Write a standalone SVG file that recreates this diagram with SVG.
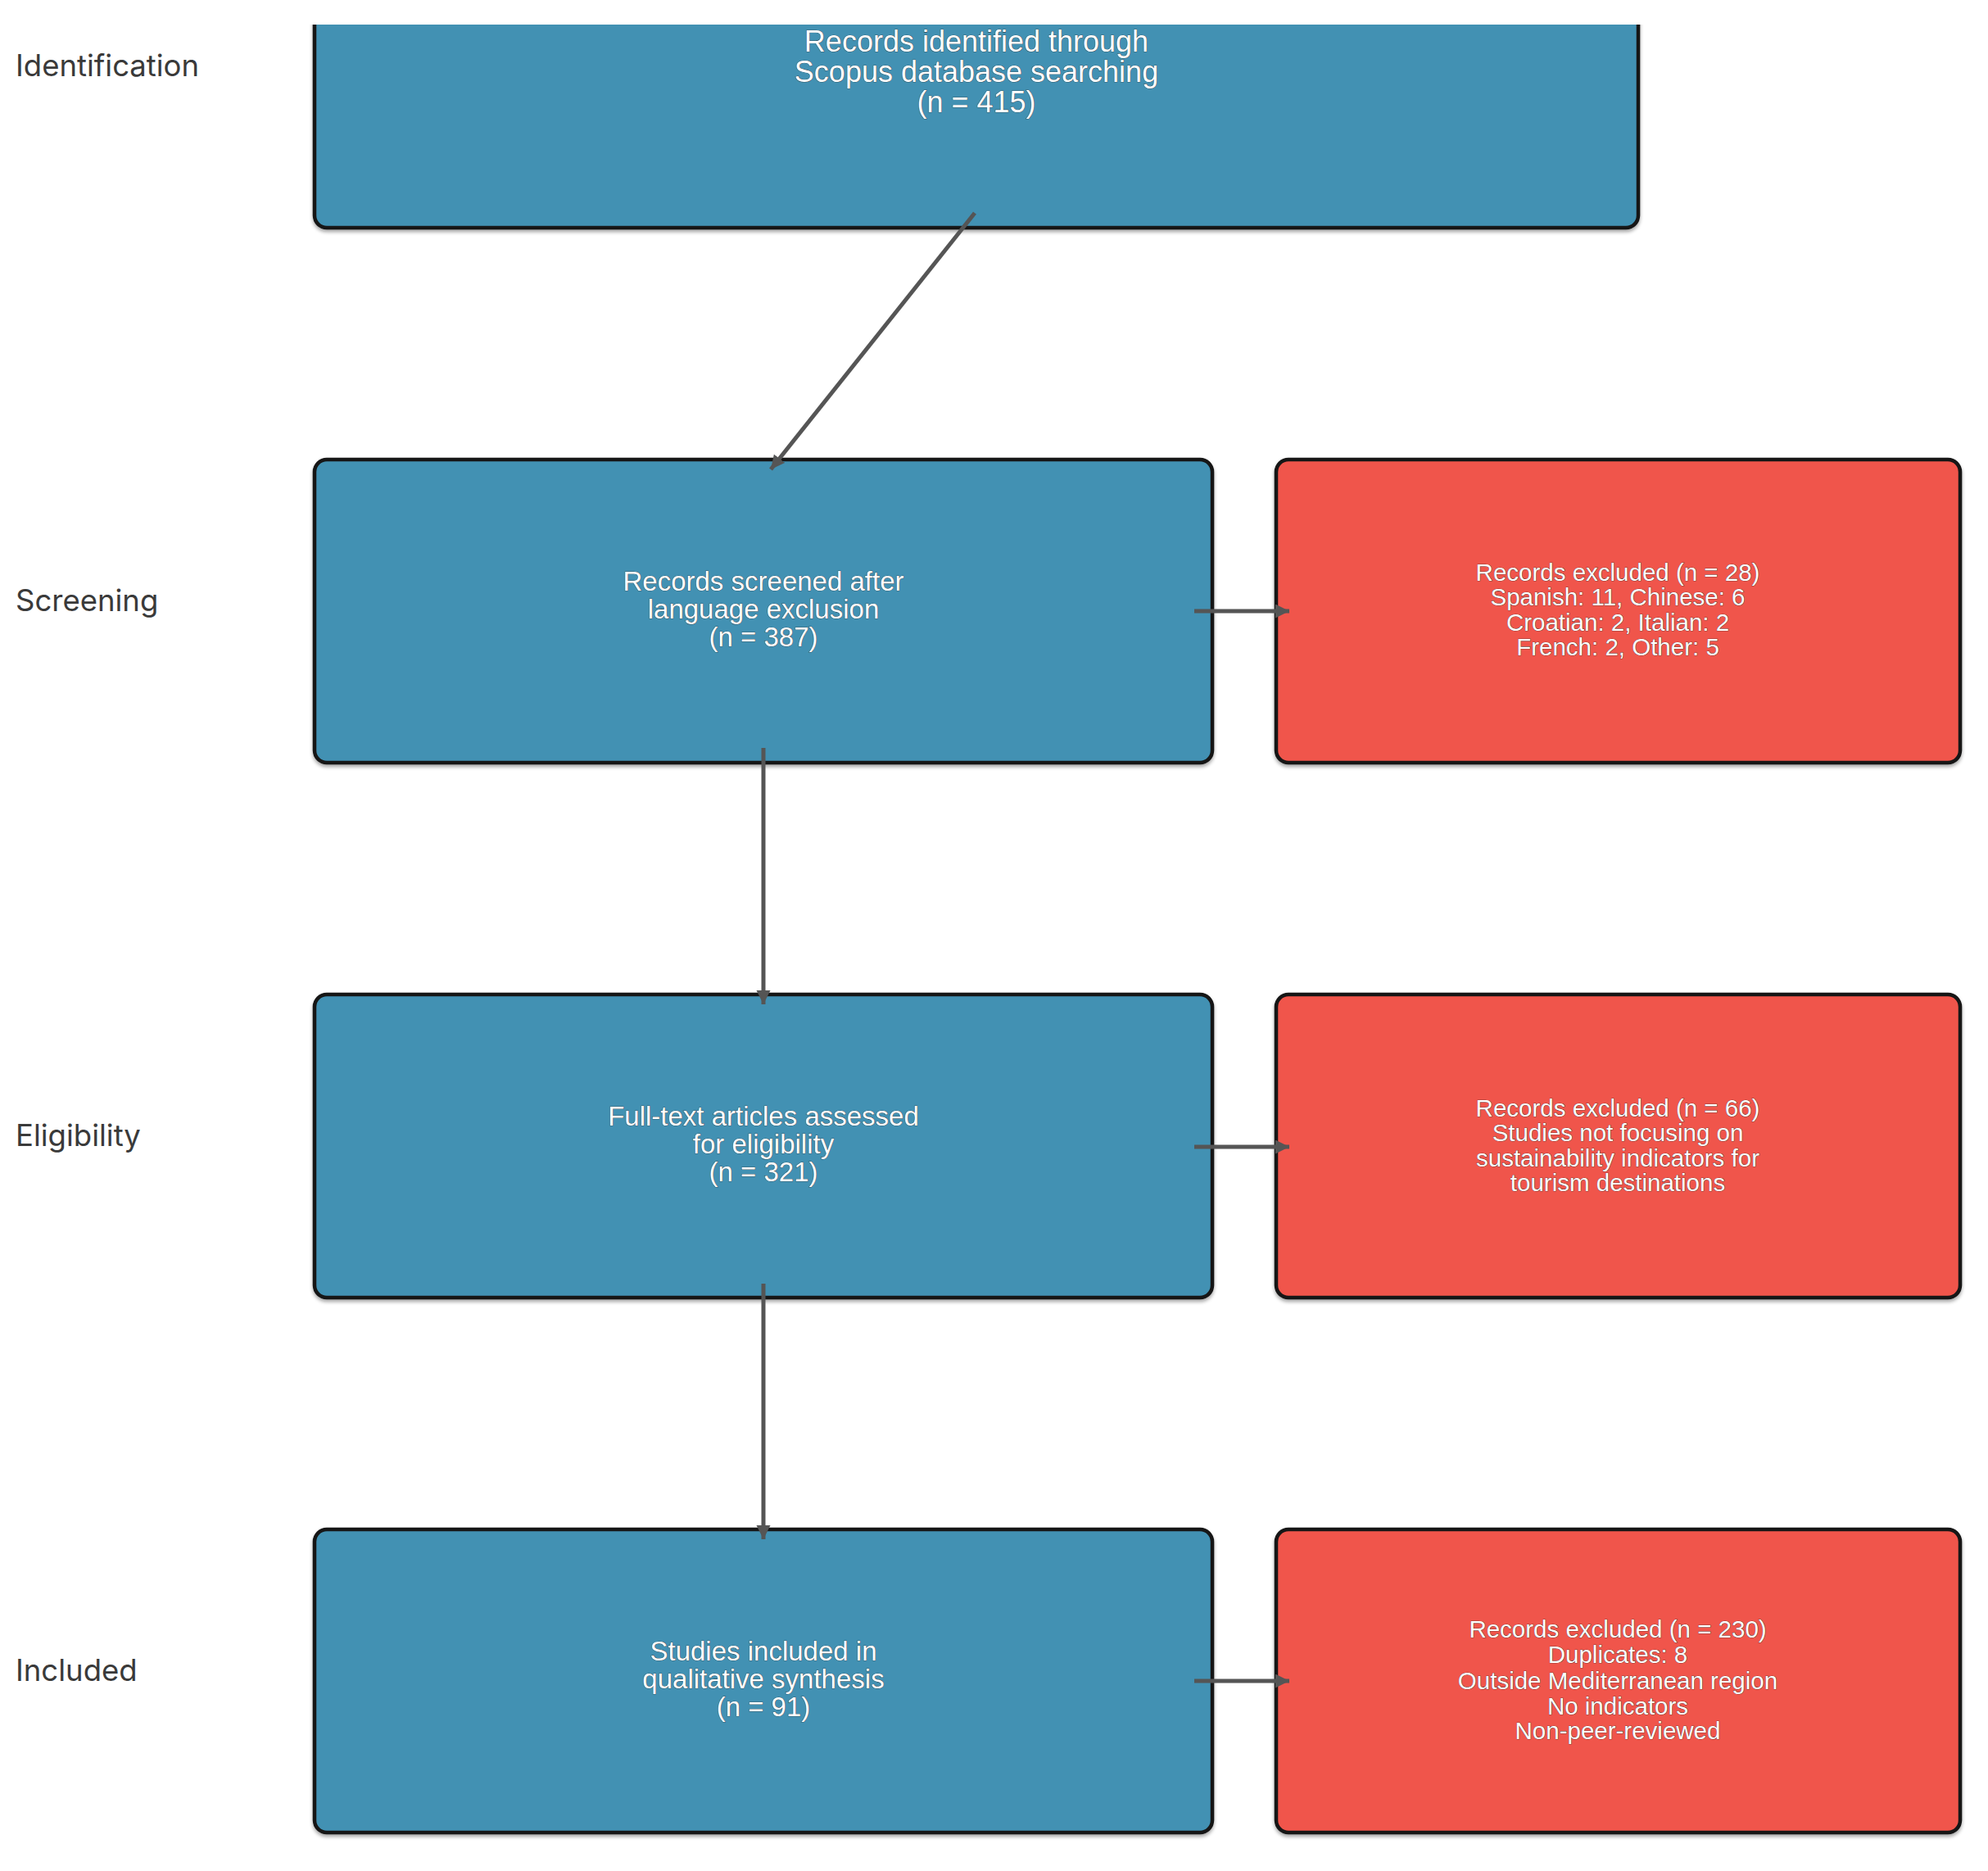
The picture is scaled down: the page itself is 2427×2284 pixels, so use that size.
<svg xmlns="http://www.w3.org/2000/svg" width="2427" height="2284" viewBox="0 0 2427 2284">
  <defs>
    <style>
      .blue { fill: #4391b3; stroke: #151515; stroke-width: 4.5; }
      .red { fill: #f0554b; stroke: #151515; stroke-width: 4.5; }
      .nt { font-family: "Liberation Sans", Arial, sans-serif; fill: #ffffff; text-anchor: middle; stroke: #2a2a2a; stroke-width: 0.7; paint-order: stroke; }
      .stage { font-family: Inter, "Liberation Sans", sans-serif; font-size: 36.5px; fill: #3a3a3a; }
      .conn { stroke: #555555; stroke-width: 5; fill: none; }
    </style>
    <filter id="shadow" x="-5%" y="-5%" width="110%" height="115%">
      <feDropShadow dx="0" dy="3" stdDeviation="2" flood-color="#000000" flood-opacity="0.35"/>
    </filter>
    <clipPath id="topclip">
      <rect x="0" y="30" width="2427" height="400"/>
    </clipPath>
    <marker id="arrow" markerUnits="userSpaceOnUse" markerWidth="20" markerHeight="18" refX="17" refY="8.5" orient="auto">
      <path d="M0,0 L17,8.5 L0,17 z" fill="#555555"/>
    </marker>
  </defs>
  <rect x="0" y="0" width="2427" height="2284" fill="#ffffff"/>

  <g id="stage-labels">
    <text class="stage" x="19" y="93">Identification</text>
    <text class="stage" x="19" y="746">Screening</text>
    <text class="stage" x="19" y="1399">Eligibility</text>
    <text class="stage" x="19" y="2052">Included</text>
  </g>

  <g id="node-identified" clip-path="url(#topclip)">
    <rect class="blue" x="384" y="-30" width="1616" height="308" rx="15" filter="url(#shadow)"/>
    <text class="nt" font-size="36" x="1192"><tspan x="1192" y="63">Records identified through</tspan><tspan x="1192" y="100">Scopus database searching</tspan><tspan x="1192" y="137">(n = 415)</tspan></text>
  </g>

  <g id="node-screened">
    <rect class="blue" x="384" y="561" width="1096" height="370" rx="15" filter="url(#shadow)"/>
    <text class="nt" font-size="33"><tspan x="932" y="721">Records screened after</tspan><tspan x="932" y="755">language exclusion</tspan><tspan x="932" y="789">(n = 387)</tspan></text>
  </g>

  <g id="node-excluded-language">
    <rect class="red" x="1558" y="561" width="835" height="370" rx="15" filter="url(#shadow)"/>
    <text class="nt" font-size="29.5"><tspan x="1975" y="709">Records excluded (n = 28)</tspan><tspan x="1975" y="739">Spanish: 11, Chinese: 6</tspan><tspan x="1975" y="770">Croatian: 2, Italian: 2</tspan><tspan x="1975" y="800">French: 2, Other: 5</tspan></text>
  </g>

  <g id="node-eligibility">
    <rect class="blue" x="384" y="1214" width="1096" height="370" rx="15" filter="url(#shadow)"/>
    <text class="nt" font-size="33"><tspan x="932" y="1374">Full-text articles assessed</tspan><tspan x="932" y="1408">for eligibility</tspan><tspan x="932" y="1442">(n = 321)</tspan></text>
  </g>

  <g id="node-excluded-eligibility">
    <rect class="red" x="1558" y="1214" width="835" height="370" rx="15" filter="url(#shadow)"/>
    <text class="nt" font-size="29.5"><tspan x="1975" y="1363">Records excluded (n = 66)</tspan><tspan x="1975" y="1393">Studies not focusing on</tspan><tspan x="1975" y="1424">sustainability indicators for</tspan><tspan x="1975" y="1454">tourism destinations</tspan></text>
  </g>

  <g id="node-included">
    <rect class="blue" x="384" y="1867" width="1096" height="370" rx="15" filter="url(#shadow)"/>
    <text class="nt" font-size="33"><tspan x="932" y="2027">Studies included in</tspan><tspan x="932" y="2061">qualitative synthesis</tspan><tspan x="932" y="2095">(n = 91)</tspan></text>
  </g>

  <g id="node-excluded-final">
    <rect class="red" x="1558" y="1867" width="835" height="370" rx="15" filter="url(#shadow)"/>
    <text class="nt" font-size="29.5"><tspan x="1975" y="1999">Records excluded (n = 230)</tspan><tspan x="1975" y="2030">Duplicates: 8</tspan><tspan x="1975" y="2062">Outside Mediterranean region</tspan><tspan x="1975" y="2093">No indicators</tspan><tspan x="1975" y="2123">Non-peer-reviewed</tspan></text>
  </g>

  <g id="connectors">
    <path class="conn" d="M1190,260 L941,573" marker-end="url(#arrow)"/>
    <path class="conn" d="M932,913 L932,1226" marker-end="url(#arrow)"/>
    <path class="conn" d="M932,1567 L932,1879" marker-end="url(#arrow)"/>
    <path class="conn" d="M1458,746 L1574,746" marker-end="url(#arrow)"/>
    <path class="conn" d="M1458,1400 L1574,1400" marker-end="url(#arrow)"/>
    <path class="conn" d="M1458,2052 L1574,2052" marker-end="url(#arrow)"/>
  </g>
</svg>
